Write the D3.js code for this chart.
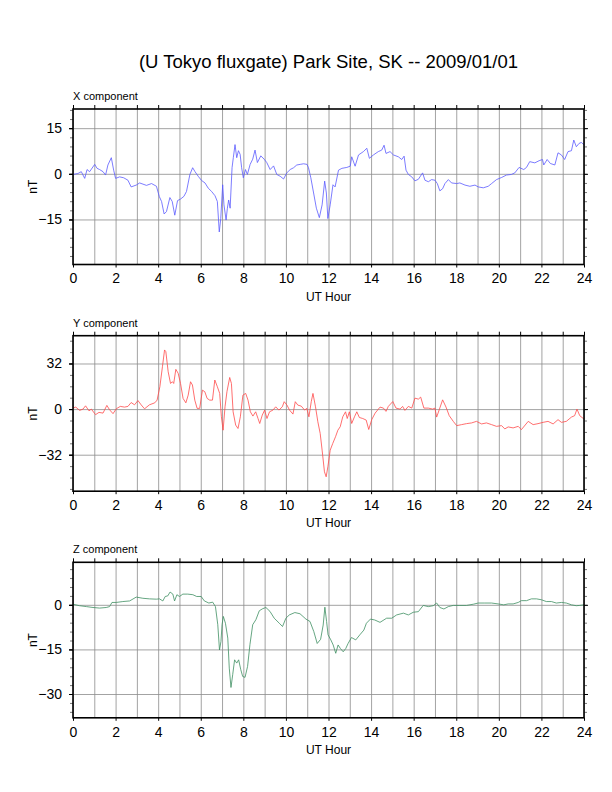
<!DOCTYPE html>
<html>
<head>
<meta charset="utf-8">
<script src="https://cdn.jsdelivr.net/npm/d3@7"></script>
<style>
  body { margin: 0; background: #fff; }
  svg { font-family: "Liberation Sans", Arial, sans-serif; }
</style>
</head>
<body>
<svg id="chart" width="612" height="792"></svg>
<script>
// X component (nT), hour -> value
var xHours = [0,0.23,0.39,0.55,0.66,0.78,1.02,1.13,1.25,1.41,1.53,1.64,1.8,1.91,2,2.19,2.38,2.58,2.73,2.97,3.13,
  3.45,3.69,3.92,4.05,4.16,4.28,4.39,4.55,4.66,4.78,4.91,5.05,5.21,5.33,5.49,5.62,5.73,5.88,6.04,6.2,6.35,6.51,6.67,6.78,
  6.87,6.94,7.03,7.09,7.19,7.25,7.31,7.38,7.47,7.53,7.61,7.69,7.77,7.85,7.92,8,8.1,8.19,8.32,8.44,8.55,8.66,8.82,8.98,
  9.1,9.26,9.42,9.57,9.73,9.89,10.04,10.2,10.36,10.51,10.67,10.83,10.99,11.06,11.17,11.3,11.43,11.57,11.7,11.82,11.9,
  11.97,12.08,12.21,12.31,12.47,12.63,12.86,13.02,13.09,13.25,13.41,13.64,13.8,13.92,14.11,14.34,14.5,14.61,14.7,14.89,
  15.05,15.28,15.44,15.55,15.64,15.75,15.91,16.06,16.22,16.42,16.53,16.69,16.84,17,17.11,17.23,17.36,17.47,17.63,17.78,
  18.02,18.17,18.41,18.64,18.88,19.03,19.27,19.5,19.66,19.89,20.13,20.36,20.59,20.75,20.95,21.17,21.3,21.45,21.69,21.89,
  22.05,22.11,22.27,22.42,22.63,22.78,22.94,23.09,23.25,23.41,23.52,23.64,23.77,23.88,24];
var xValues = [-0.2,0.1,0.7,-1.5,1.4,0.7,3.1,1.8,1.4,0.7,-0.4,2.9,5.3,1.2,-1.5,-1,-1.3,-2.1,-4.3,-3.7,-3,
  -3.8,-3.2,-4.1,-7.4,-9.1,-13.2,-12.4,-7.8,-9.1,-13.6,-8.8,-8.3,-7.4,-5.8,-0.2,2,0.7,-0.8,-2.2,-3,-4.7,-5.8,-7.2,-9.1,
  -19.1,-14.7,-3.6,-10.2,-15.2,-11.3,-8.6,-11.3,2,5.3,9.6,5.3,7.6,6.4,2,-1.3,1.4,-0.2,3.1,4.8,7.8,3.7,5.9,4.8,
  3.7,1.4,2.6,-0.2,-0.8,-1.7,0.3,1.4,2,2.9,3.1,3.3,3.1,2,-1.3,-6.3,-11.3,-14.4,-10.2,-2.4,-6.3,
  -14.7,-10.2,-3.6,-4.3,1.2,1.8,2.1,2.5,5.6,2.5,6.2,7.3,8.4,5.1,6.2,7.3,7.8,9.4,6.7,7.3,
  6.2,5.6,4.7,5.8,1.2,-0.2,-1,-2.3,-1.8,0.3,-2.1,-2.6,-1.9,-2.1,-3.2,-5.6,-4.9,-3.2,-1.9,-3,
  -3.2,-3,-3.7,-4.1,-3.7,-4.3,-4.6,-4.1,-3.2,-1.9,-1.2,-0.4,-0.2,0.3,2.1,1.4,2.1,4,3.6,4.3,
  4.7,2.9,4.7,3.4,2.9,6.9,6.2,4.7,7.3,7.6,11.1,8.9,10,10.3,9.5];

// Y component (nT)
var yHours = [0,0.13,0.31,0.47,0.59,0.75,0.86,1.06,1.22,1.41,1.59,1.72,1.88,2.03,2.22,2.42,2.58,2.73,2.89,3.05,3.2,
  3.36,3.59,3.84,3.95,4.08,4.2,4.3,4.36,4.47,4.58,4.67,4.73,4.83,4.94,5.05,5.17,5.3,5.41,5.52,5.61,5.72,5.83,5.95,
  6.08,6.19,6.3,6.42,6.55,6.66,6.78,6.89,6.97,7.05,7.14,7.23,7.36,7.44,7.52,7.64,7.75,7.86,7.98,8.11,8.22,8.33,8.45,
  8.58,8.69,8.77,8.89,9,9.11,9.23,9.39,9.52,9.67,9.83,9.92,10.05,10.17,10.33,10.44,10.56,10.72,10.88,10.98,11.08,
  11.19,11.27,11.39,11.5,11.61,11.7,11.81,11.89,11.97,12.08,12.2,12.33,12.44,12.55,12.67,12.8,12.88,12.98,13.09,13.22,
  13.33,13.45,13.61,13.77,13.89,14.03,14.19,14.42,14.58,14.7,14.81,15.02,15.17,15.36,15.48,15.59,15.75,15.91,16.06,
  16.22,16.33,16.48,16.69,16.89,17,17.08,17.2,17.36,17.52,17.67,17.86,18.02,18.25,18.48,18.72,18.95,19.19,19.42,19.66,
  19.89,20.13,20.28,20.44,20.67,20.91,21.06,21.38,21.61,21.84,22.08,22.31,22.55,22.78,22.94,23.17,23.41,23.56,23.67,
  23.8,24];
var yValues = [0.7,1.4,-0.9,0,2.3,-1.2,0,-3.9,-2.3,-2.8,2.6,-0.5,-3.2,0.2,1.9,1.4,1.9,4.6,3,6,3,
  0.2,3,4.4,6.3,15.7,29.7,41.5,40.3,26.2,18,19.2,18,27.9,25.1,18,7.5,4.4,9.8,19.2,16.9,6.3,0.5,0.5,
  13.3,12.2,7.5,6.3,6.3,20.4,15.7,11,-5.4,-14.8,1.6,12.2,22.2,18,-1.9,-11.2,-13.6,-5.4,9.8,11,6.3,-1.9,-4.9,
  -1.9,-6.6,-10.1,-4.2,-0.7,-6.6,-1.9,-0.7,1.6,-0.7,1.6,5.2,2.8,-0.7,-3.5,5.2,2.8,2.1,-0.7,0.5,-5.4,
  5.2,11,1.6,-8.9,-17.1,-28.8,-44,-47.5,-40.5,-28.8,-24.1,-19.4,-14.8,-12.4,-5.4,-1.9,-6.6,-1.9,-10.1,-5.4,
  -1.9,-5.9,-6.6,-7.7,-14.3,-7.4,-2.8,1.4,0.7,-1.6,1.9,5.3,0.7,0,1.9,-0.9,1.9,0.7,7.7,
  7,8.4,0.7,0.7,0,0.7,-5.6,-0.5,6.5,1.4,-4.6,-8.6,-11.6,-10.9,-10.2,-9.7,-8.6,-10.4,-9.7,-10.9,
  -12.1,-11.6,-13.9,-12.5,-13.2,-12.1,-14.4,-8.6,-10.9,-10.2,-9.3,-8.6,-10.4,-7.4,-9.3,-8.6,-5.6,-4.6,0,
  -4.6,-7];

// Z component (nT)
var zHours = [0,0.31,0.63,0.94,1.25,1.56,1.72,1.83,2.03,2.34,2.66,2.97,3.28,3.59,3.91,4.06,4.22,4.33,4.45,4.56,4.69,
  4.77,4.88,5,5.16,5.39,5.63,5.81,6.02,6.17,6.38,6.56,6.69,6.8,6.88,6.95,7,7.06,7.16,7.27,7.34,7.42,7.5,7.59,7.69,
  7.78,7.88,7.97,8.08,8.2,8.31,8.44,8.59,8.75,8.91,9.06,9.25,9.45,9.69,9.84,10,10.16,10.42,10.66,10.94,11.13,11.31,
  11.47,11.63,11.75,11.83,11.91,11.98,12.11,12.22,12.34,12.45,12.56,12.69,12.81,12.92,13.08,13.28,13.47,13.66,13.78,
  13.97,14.17,14.42,14.73,14.97,15.2,15.52,15.75,15.98,16.22,16.45,16.69,16.92,17.08,17.23,17.42,17.63,17.86,18.17,
  18.48,18.8,19.03,19.34,19.66,19.97,20.23,20.44,20.67,20.91,21.06,21.3,21.53,21.77,22,22.23,22.47,22.7,22.94,23.17,
  23.41,23.64,23.8,24];
var zValues = [0.2,-0.3,-0.6,-0.9,-1.1,-0.9,-0.6,0.8,0.8,1.1,1.3,2.6,2.2,2,1.9,2,1.3,2.8,3,4.3,3.6,
  1.3,3.4,2.8,3.6,3.6,3.4,2.8,2.8,1.3,0.6,0.9,-0.6,-6.7,-15.2,-12.3,-6.7,-3.9,-6.2,-11.2,-21.3,-27.8,-23.5,-18.5,-19.6,
  -18.5,-21.8,-24.1,-24.4,-20.7,-13.4,-6.7,-5,-2,-1.3,-0.9,-2.2,-4.5,-6.2,-7.3,-4.5,-3.4,-2.6,-3,-4.8,-5.6,-9,
  -13,-11.6,-6.8,-0.8,-5.6,-10.1,-11.8,-13.5,-16.3,-13.5,-14.7,-15.8,-14.7,-13,-11,-11.8,-10.1,-8.5,-6.2,
  -4.8,-5.1,-5.9,-4.5,-4.5,-3.4,-2.8,-3.4,-2.5,-2.3,-0.2,-0.6,-0.3,0.6,-0.9,-1.4,-0.6,-0.2,-0.2,
  -0.2,0.2,0.6,0.6,0.6,0.3,0,0.3,0.3,0.8,1.4,1.4,2,2,1.7,1.1,1.1,0.6,0.8,0.6,
  0,-0.3,-0.2,0];

var hourTicks = d3.range(0, 25, 1);
var hourLabels = d3.range(0, 25, 2);

var panels = [
  {name: "X component", hours: xHours, values: xValues, color: "#5a5aff",
   domain: [-29.8, 21.3], major: [-15, 0, 15], minorStep: 3, top: 109},
  {name: "Y component", hours: yHours, values: yValues, color: "#ff4a4a",
   domain: [-57.6, 51.5], major: [-32, 0, 32], minorStep: 8, top: 335.7},
  {name: "Z component", hours: zHours, values: zValues, color: "#3f8f62",
   domain: [-38, 14.3], major: [-30, -15, 0], minorStep: 3, top: 562.3}
];

var svg = d3.select("#chart");
var left = 73, right = 584, panelH = 155.5;

svg.append("text")
  .attr("x", (left + right) / 2).attr("y", 68)
  .attr("text-anchor", "middle")
  .attr("font-size", 18.5)
  .text("(U Tokyo fluxgate) Park Site, SK -- 2009/01/01");

var x = d3.scaleLinear().domain([0, 24]).range([left, right]);

panels.forEach(function(p) {
  var y = d3.scaleLinear().domain(p.domain).range([p.top + panelH, p.top]);
  var g = svg.append("g");
  var minors = d3.range(Math.ceil(p.domain[0] / p.minorStep) * p.minorStep, p.domain[1], p.minorStep);

  // grid
  g.append("g")
    .attr("transform", `translate(0,${p.top + panelH})`)
    .call(d3.axisBottom(x).tickValues(hourTicks).tickSize(-panelH).tickFormat(""))
    .call(function(s) { s.select(".domain").remove(); })
    .selectAll("line").attr("stroke", "#8c8c8c").attr("stroke-width", 0.8);
  g.append("g")
    .attr("transform", `translate(${left},0)`)
    .call(d3.axisLeft(y).tickValues(p.major).tickSize(-(right - left)).tickFormat(""))
    .call(function(s) { s.select(".domain").remove(); })
    .selectAll("line").attr("stroke", "#8c8c8c").attr("stroke-width", 0.8);

  // trace
  var line = d3.line()
    .x(function(d) { return x(d[0]); })
    .y(function(d) { return y(d[1]); });
  g.append("path")
    .datum(d3.zip(p.hours, p.values))
    .attr("fill", "none")
    .attr("stroke", p.color)
    .attr("stroke-width", 0.8)
    .attr("d", line);

  // minor ticks left and right
  [[d3.axisLeft, left], [d3.axisRight, right]].forEach(function(a) {
    g.append("g")
      .attr("transform", `translate(${a[1]},0)`)
      .call(a[0](y).tickValues(minors).tickSize(3).tickFormat(""))
      .call(function(s) { s.select(".domain").remove(); })
      .selectAll("line").attr("stroke", "#777");
    g.append("g")
      .attr("transform", `translate(${a[1]},0)`)
      .call(a[0](y).tickValues(p.major).tickSize(4).tickFormat(""))
      .call(function(s) { s.select(".domain").remove(); });
  });

  // labelled left axis
  g.append("g")
    .attr("transform", `translate(${left},0)`)
    .call(d3.axisLeft(y).tickValues(p.major).tickSize(4).tickPadding(7))
    .call(function(s) { s.select(".domain").remove(); })
    .selectAll("text").attr("font-size", 14).attr("font-family", "Liberation Sans, Arial, sans-serif").attr("fill", "#000");

  // top ticks every hour
  g.append("g")
    .attr("transform", `translate(0,${p.top})`)
    .call(d3.axisTop(x).tickValues(hourTicks).tickSize(4).tickFormat(""))
    .call(function(s) { s.select(".domain").remove(); });

  // bottom axis
  g.append("g")
    .attr("transform", `translate(0,${p.top + panelH})`)
    .call(d3.axisBottom(x).tickValues(hourLabels).tickSize(3).tickPadding(6).tickFormat(d3.format("d")))
    .call(function(s) { s.select(".domain").remove(); })
    .selectAll("text").attr("font-size", 14).attr("font-family", "Liberation Sans, Arial, sans-serif").attr("fill", "#000");

  // frame
  g.append("rect")
    .attr("x", left).attr("y", p.top)
    .attr("width", right - left).attr("height", panelH)
    .attr("fill", "none").attr("stroke", "#000").attr("stroke-width", 1.6);

  g.append("text")
    .attr("x", left).attr("y", p.top - 9)
    .attr("font-size", 11)
    .text(p.name);

  g.append("text")
    .attr("transform", `translate(37,${p.top + panelH / 2}) rotate(-90)`)
    .attr("text-anchor", "middle")
    .attr("font-size", 12)
    .text("nT");

  g.append("text")
    .attr("x", (left + right) / 2).attr("y", p.top + panelH + 36)
    .attr("text-anchor", "middle")
    .attr("font-size", 12)
    .text("UT Hour");
});
</script>
</body>
</html>
